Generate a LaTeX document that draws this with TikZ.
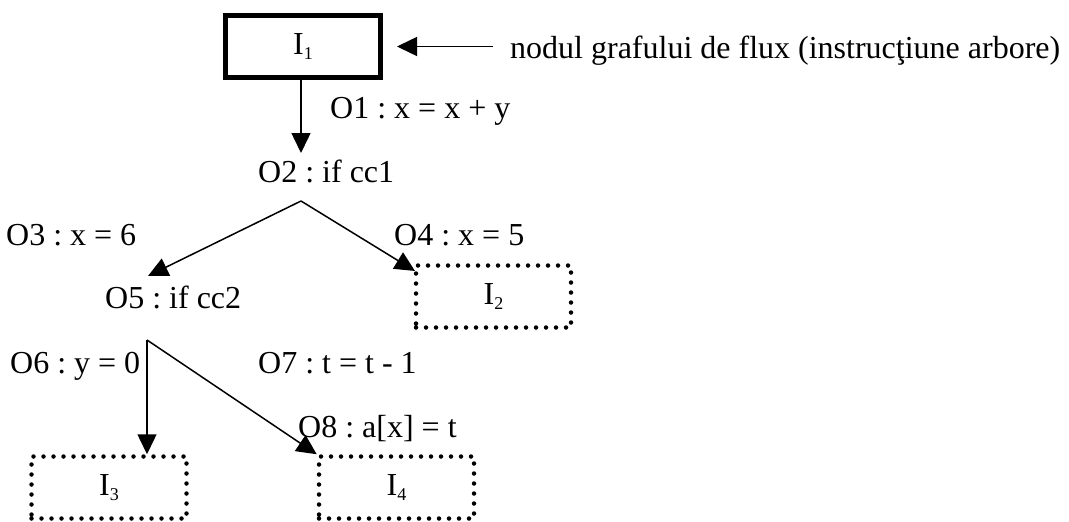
\documentclass[tikz,border=0pt]{standalone}
\usepackage{fontspec}
\setmainfont{Liberation Serif}
\usetikzlibrary{arrows.meta,positioning,calc}

\newcommand{\lowidx}[1]{\raisebox{-5pt}{\fontsize{18}{20}\selectfont #1}}

\begin{document}
\frenchspacing
\begin{tikzpicture}[
    x=1pt, y=-1pt,
    every node/.style={font=\fontsize{32}{38}\selectfont, inner sep=0pt},
    instr/.style={draw=black, line width=5pt, minimum width=155pt, minimum height=62pt},
    instr_next/.style={draw=black, line width=4.5pt, dash pattern=on 0pt off 10pt, line cap=round, minimum width=155pt, minimum height=62pt},
    op/.style={anchor=base west},
    link/.style={line width=1.5pt, -{Triangle[length=20pt, width=19pt]}}
]
    \useasboundingbox (0,0) rectangle (1069,522);

    % Current tree instruction and its note
    \node[instr] (i1) at (303,46.5) {I\lowidx{1}};
    \node[op] (note) at (510,58) {nodul grafului de flux (instrucţiune arbore)};

    % Operations along the tree
    \node[op] (o1) at (330,118) {O1 : x = x + y};
    \node[op] (o2) at (258,182) {O2 : if cc1};
    \node[op] (o3) at (6,245) {O3 : x = 6};
    \node[op] (o4) at (394,245) {O4 : x = 5};
    \node[op] (o5) at (105,308) {O5 : if cc2};
    \node[op] (o6) at (10,373) {O6 : y = 0};
    \node[op] (o7) at (258,373) {O7 : t = t - 1};
    \node[op] (o8) at (298,437) {O8 : a[x] = t};

    % Branch points and arrow ends
    \coordinate (b1) at (301,201);
    \coordinate (b2) at (147,340);
    \coordinate (t1) at (301,153);
    \coordinate (t3) at (148,276);
    \coordinate (t4) at (415,271);

    % Following instructions (dotted)
    \node[instr_next] (i2) at (493.5,296.5) {I\lowidx{2}};
    \node[instr_next] (i3) at (109,487.5) {I\lowidx{3}};
    \node[instr_next] (i4) at (396.5,487.5) {I\lowidx{4}};

    % Arrows
    \draw[link, shorten <=17pt, shorten >=14pt] (note.west |- i1.east) -- (i1.east);
    \draw[link] (b1 |- i1.south) -- (t1);
    \draw[link] (b1) -- (t3);
    \draw[link] (b1) -- (t4);
    \draw[link] (b2) -- (b2 |- i3.north);
    \draw[link] (b2) -- (i4.north west);

\end{tikzpicture}
\end{document}
